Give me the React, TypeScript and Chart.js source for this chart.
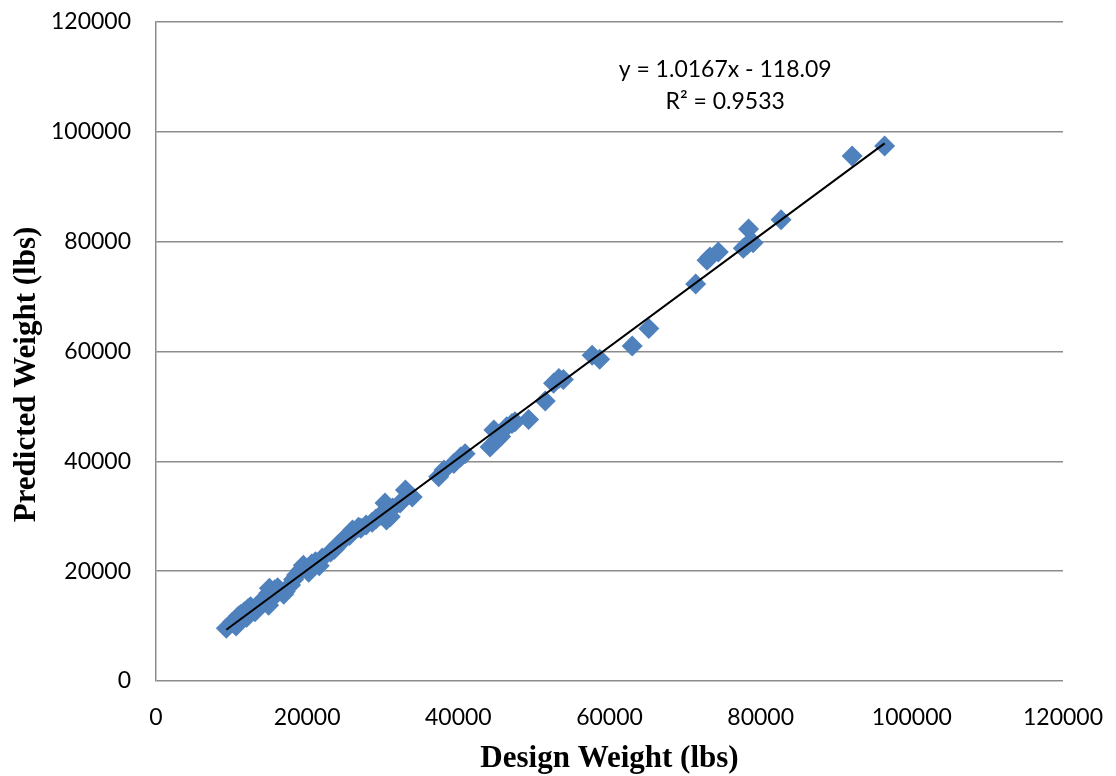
import React, { useEffect, useRef } from 'react';
import { Chart, registerables } from 'chart.js';

Chart.register(...registerables);

// Design weight (lbs) - x values
const designWeight = [
  96400, 92100, 82700, 78400, 78200, 79000, 77700, 74400, 73300, 72900,
  71400, 65200, 63000, 57700, 58700, 53300, 52600, 53900, 51500, 49300,
  47100, 47500, 46400, 44700, 45600, 45100, 44200, 40900, 40300, 39400,
  38100, 37400, 33900, 33000, 32300, 31300, 30300, 31000, 30500, 29700,
  28600, 27800, 26800, 26000, 25000, 24100, 23100, 22000, 21100, 20200,
  19500, 18600, 17800, 16900, 15700, 15400, 14900, 14900, 14100, 13100,
  12500, 12000, 11700, 10900, 10600, 10100, 9300,
  12200, 13600, 16100, 17100, 18200, 19100, 20600, 21600, 23600, 24600,
  25600, 27100, 29100, 11200, 15000,
];

// Predicted weight (lbs) - y values
const predictedWeight = [
  97400, 95600, 84000, 82300, 79400, 79800, 78800, 78100, 77200, 76600,
  72300, 64200, 61000, 59300, 58600, 55100, 54200, 54900, 51000, 47600,
  46900, 47200, 46300, 45700, 44500, 43900, 42600, 41400, 40800, 39600,
  38400, 37200, 33500, 34800, 32400, 31500, 32400, 29900, 29300, 30200,
  28900, 28400, 28000, 27500, 26000, 24800, 23500, 22400, 21700, 19800,
  21100, 19300, 17500, 15800, 16600, 15100, 16000, 13800, 14700, 12600,
  13500, 11600, 12600, 11800, 10000, 10700, 9600,
  13200, 14000, 17000, 16300, 18500, 20100, 21300, 21000, 24000, 25500,
  26500, 27800, 29500, 12100, 16900,
];

const xTicks = [0, 20000, 40000, 60000, 80000, 100000, 120000];
const yTicks = [0, 20000, 40000, 60000, 80000, 100000, 120000];

const trendSlope = 1.0167;
const trendIntercept = -118.09;
const equationLabel = 'y = 1.0167x - 118.09';
const r2Label = 'R² = 0.9533';
const xTitle = 'Design Weight (lbs)';
const yTitle = 'Predicted Weight (lbs)';

const TICK_FONT = { family: 'Lato, "Open Sans", sans-serif', size: 23 };
const GRID_COLOR = '#8c8c8c';

export default function App() {
  const canvasRef = useRef<HTMLCanvasElement | null>(null);

  useEffect(() => {
    const canvas = canvasRef.current;
    if (!canvas) return;

    const xMin = Math.min(...designWeight);
    const xMax = Math.max(...designWeight);
    const trendData = [
      { x: xMin, y: trendSlope * xMin + trendIntercept },
      { x: xMax, y: trendSlope * xMax + trendIntercept },
    ];
    const points = designWeight.map((x, i) => ({ x, y: predictedWeight[i] }));

    const overlayPlugin = {
      id: 'overlayText',
      afterDraw(chart: any) {
        const { ctx, chartArea, scales } = chart;
        ctx.save();
        // trendline equation
        ctx.fillStyle = '#000';
        ctx.font = `${TICK_FONT.size}px ${TICK_FONT.family}`;
        ctx.textAlign = 'center';
        ctx.textBaseline = 'middle';
        const ex = scales.x.getPixelForValue(75300);
        ctx.fillText(equationLabel, ex, scales.y.getPixelForValue(111400));
        ctx.fillText(r2Label, ex, scales.y.getPixelForValue(105600));
        // y axis title
        ctx.font = 'bold 31px "Liberation Serif", "Times New Roman", serif';
        ctx.translate(27, (chartArea.top + chartArea.bottom) / 2 + 23);
        ctx.rotate(-Math.PI / 2);
        ctx.fillText(yTitle, 0, 0);
        ctx.restore();
      },
    };

    const chart = new Chart(canvas, {
      type: 'scatter',
      data: {
        datasets: [
          {
            label: 'Predicted',
            data: points,
            backgroundColor: '#4F81BD',
            borderColor: '#4F81BD',
            borderWidth: 0,
            pointStyle: 'rectRot',
            pointRadius: 10.5,
            pointHoverRadius: 10.5,
            order: 2,
          },
          {
            type: 'line',
            label: 'Trend',
            data: trendData,
            borderColor: '#000000',
            borderWidth: 2,
            pointRadius: 0,
            fill: false,
            order: 1,
          } as any,
        ],
      },
      options: {
        animation: false,
        responsive: false,
        maintainAspectRatio: false,
        layout: { padding: { left: 0, right: 53, top: 22, bottom: 0 } },
        plugins: {
          legend: { display: false },
          tooltip: { enabled: false },
        },
        scales: {
          x: {
            type: 'linear',
            min: 0,
            max: 120000,
            afterBuildTicks: (scale: any) => {
              scale.ticks = xTicks.map((v) => ({ value: v }));
            },
            afterFit: (scale: any) => {
              scale.height = 95;
              scale.paddingLeft = 0;
              scale.paddingRight = 0;
            },
            ticks: {
              color: '#000',
              font: TICK_FONT,
              padding: 23,
              maxRotation: 0,
              callback: (v: any) => String(v),
            },
            grid: { display: false, drawTicks: false },
            border: { display: false },
            title: {
              display: true,
              text: xTitle,
              color: '#000',
              font: { family: '"Liberation Serif", "Times New Roman", serif', size: 31, weight: 'bold' },
              padding: { top: 0, bottom: -2 },
            },
          },
          y: {
            type: 'linear',
            min: 0,
            max: 120000,
            afterBuildTicks: (scale: any) => {
              scale.ticks = yTicks.map((v) => ({ value: v }));
            },
            afterFit: (scale: any) => {
              scale.width = 156;
              scale.paddingTop = 0;
              scale.paddingBottom = 0;
            },
            ticks: {
              color: '#000',
              font: TICK_FONT,
              padding: 25,
              callback: (v: any) => String(v),
            },
            grid: { display: true, drawTicks: false, color: GRID_COLOR, lineWidth: 1.5 },
            border: { display: true, color: GRID_COLOR, width: 1.5 },
          },
        },
      },
      plugins: [overlayPlugin],
    });

    return () => chart.destroy();
  }, []);

  return (
    <div style={{ position: 'fixed', left: 0, top: 0, width: 1116, height: 776, background: '#fff' }}>
      <canvas ref={canvasRef} width={1116} height={776} style={{ width: 1116, height: 776, display: 'block' }} />
    </div>
  );
}
